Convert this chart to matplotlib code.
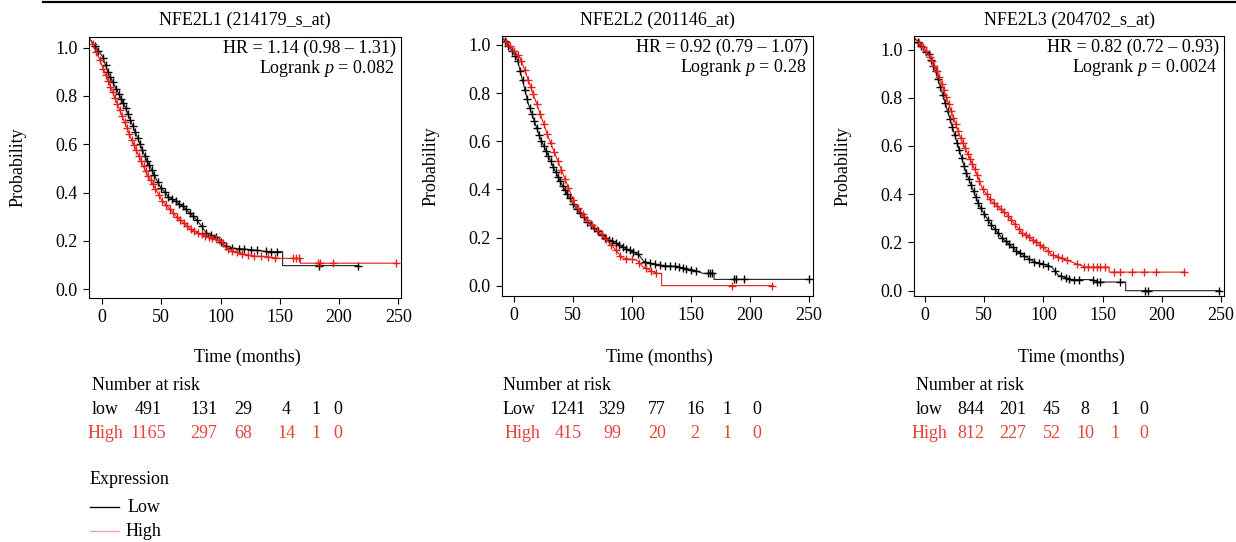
import numpy as np
import matplotlib
matplotlib.use("Agg")
import matplotlib.pyplot as plt
from matplotlib.lines import Line2D

plt.rcParams["font.family"] = ["Liberation Serif", "DejaVu Serif"]
plt.rcParams["mathtext.fontset"] = "custom"
plt.rcParams["mathtext.it"] = "Liberation Serif:italic"
plt.rcParams["mathtext.rm"] = "Liberation Serif"

W, H = 1236, 542
FS = 13
RED = "#e3201b"
RED_TXT = "#e8403a"

titles = ["NFE2L1 (214179_s_at)", "NFE2L2 (201146_at)", "NFE2L3 (204702_s_at)"]
hr_text = ["HR = 1.14 (0.98 – 1.31)", "HR = 0.92 (0.79 – 1.07)", "HR = 0.82 (0.72 – 0.93)"]
p_text = ["0.082", "0.28", "0.0024"]

# --- KM curves ---
p1_low_t = [-10, 0.5, 5.3, 12.4, 19.4, 25, 30.7, 36.3, 43.3, 49, 56, 68.6, 80, 88.3, 96, 102, 111, 128, 139, 152.4, 152.4, 216]
p1_low_s = [1.035, 0.963, 0.894, 0.825, 0.756, 0.687, 0.618, 0.549, 0.48, 0.425, 0.383, 0.342, 0.287, 0.232, 0.218, 0.183, 0.17, 0.163, 0.156, 0.156, 0.098, 0.098]
p1_high_t = [-10, -3, 2.5, 13.8, 25, 37.7, 50.3, 63, 75.7, 88.3, 100, 105, 116, 128, 139, 150, 167.5, 167.5, 248.6]
p1_high_s = [1.035, 0.963, 0.894, 0.756, 0.618, 0.48, 0.37, 0.30, 0.245, 0.218, 0.204, 0.17, 0.149, 0.138, 0.135, 0.128, 0.128, 0.108, 0.108]

p2_low_t = [-10, 2.3, 5.1, 12.2, 22, 34.8, 41.9, 50.4, 61.7, 77.2, 94.2, 105.5, 110, 121, 138, 152, 160, 169.5, 169.5, 251]
p2_low_s = [1.03, 0.945, 0.89, 0.751, 0.613, 0.475, 0.405, 0.336, 0.267, 0.198, 0.156, 0.129, 0.10, 0.086, 0.079, 0.065, 0.051, 0.051, 0.026, 0.026]
p2_high_t = [-9, 5.1, 9.3, 19.3, 29.2, 34.8, 40.5, 46.1, 51.8, 63, 77, 87.1, 91.4, 104, 109, 121, 125, 125, 219.7]
p2_high_s = [1.025, 0.945, 0.89, 0.751, 0.613, 0.544, 0.475, 0.405, 0.336, 0.267, 0.198, 0.143, 0.115, 0.106, 0.079, 0.051, 0.051, 0.0, 0.0]

p3_low_t = [-8.4, 3.4, 9, 17.5, 25.9, 34.4, 40, 45.6, 54, 65.3, 78, 92, 103, 107, 112.6, 124, 141, 146, 169.5, 169.5, 249]
p3_low_s = [1.045, 0.978, 0.909, 0.77, 0.632, 0.494, 0.424, 0.355, 0.286, 0.217, 0.162, 0.12, 0.106, 0.098, 0.064, 0.046, 0.046, 0.036, 0.036, 0.0, 0.0]
p3_high_t = [-7, 3, 10.4, 20.3, 30.1, 42.8, 48.4, 56.8, 69.6, 80.8, 97.7, 107.5, 112.6, 124, 135, 155.5, 155.5, 219.6]
p3_high_s = [1.04, 0.98, 0.909, 0.77, 0.632, 0.494, 0.424, 0.369, 0.314, 0.245, 0.189, 0.148, 0.14, 0.119, 0.098, 0.098, 0.077, 0.077]

# censor marks (times)
p1_low_cens = [-6, -3, 1, 3, 5, 7, 9, 12, 14, 16, 18, 20, 22, 24, 26, 28, 30, 32, 34, 36, 38, 40, 42, 44, 47, 50, 53, 56, 59, 62, 65, 68, 71, 74, 77, 80, 84, 88, 92, 96, 100, 105, 110, 116, 120, 126, 131, 138, 143, 148, 183, 216]
p1_high_cens = [-8, -5, -2, 1, 3, 5, 7, 9, 11, 13, 15, 17, 19, 21, 23, 25, 27, 29, 31, 33, 35, 37, 39, 41, 43, 45, 48, 51, 54, 57, 60, 63, 66, 69, 72, 75, 78, 81, 84, 87, 90, 93, 96, 99, 102, 106, 110, 114, 118, 123, 128, 134, 140, 146, 161, 164, 166, 182, 184, 195, 248]
p2_low_cens = [-8, -5, -2, 1, 3, 5, 7, 9, 11, 13, 15, 17, 19, 21, 23, 25, 27, 29, 31, 33, 35, 37, 39, 41, 43, 45, 47, 50, 53, 56, 59, 62, 65, 68, 71, 74, 77, 80, 83, 86, 89, 92, 95, 98, 101, 105, 111, 115, 119, 124, 128, 132, 136, 140, 143, 146, 150, 154, 164, 166, 168, 186, 188, 195, 250]
p2_high_cens = [-7, -4, 0, 3, 6, 9, 12, 14, 16, 19, 22, 25, 28, 31, 34, 37, 40, 43, 46, 50, 54, 58, 62, 66, 70, 74, 78, 82, 86, 90, 95, 100, 106, 112, 116, 120, 185, 219]
p3_low_cens = [-6, -3, 1, 3, 5, 7, 9, 11, 13, 15, 17, 19, 21, 23, 25, 27, 29, 31, 33, 35, 37, 39, 41, 43, 45, 47, 50, 53, 56, 59, 62, 65, 68, 71, 74, 77, 80, 84, 88, 92, 96, 100, 104, 110, 115, 119, 122, 126, 130, 142, 145, 148, 165, 186, 188, 248]
p3_high_cens = [-5, -2, 1, 4, 6, 8, 10, 12, 14, 16, 18, 20, 22, 24, 26, 28, 30, 32, 34, 36, 38, 40, 42, 44, 46, 49, 52, 55, 58, 61, 64, 67, 70, 73, 76, 79, 82, 85, 88, 91, 94, 97, 100, 104, 108, 112, 116, 120, 128, 134, 138, 142, 145, 148, 152, 160, 165, 175, 185, 195, 219]

# number at risk
risk_low = [[491, 131, 29, 4, 1, 0], [1241, 329, 77, 16, 1, 0], [844, 201, 45, 8, 1, 0]]
risk_high = [[1165, 297, 68, 14, 1, 0], [415, 99, 20, 2, 1, 0], [812, 227, 52, 10, 1, 0]]
risk_low_label = ["low", "Low", "low"]

curves = [
    (p1_low_t, p1_low_s, p1_low_cens, p1_high_t, p1_high_s, p1_high_cens),
    (p2_low_t, p2_low_s, p2_low_cens, p2_high_t, p2_high_s, p2_high_cens),
    (p3_low_t, p3_low_s, p3_low_cens, p3_high_t, p3_high_s, p3_high_cens),
]

# layout in pixels: left, right, top, bottom
boxes = [(89, 401, 37, 298), (502, 813, 36, 296), (914, 1224, 36, 296)]
xlims = [(-11.0, 252.3), (-10.4, 253.4), (-9.3, 252.5)]
ylims = [(-0.036, 1.044), (-0.043, 1.037), (-0.022, 1.056)]
risk_cols = [[148, 204, 243, 286, 316, 338], [568, 612, 657, 695, 727, 757], [971, 1013, 1052, 1085, 1115, 1144]]
risk_lab_x = [(92, 88), (503, 505), (916, 912)]

fig = plt.figure(figsize=(W / 100, H / 100), dpi=100)


def fx(x):
    return x / W


def fy(y):
    return 1 - y / H


fig.add_artist(Line2D([fx(43), 1], [fy(2), fy(2)], color="black", lw=1.6))

for i in range(3):
    l, r, t, b = boxes[i]
    ax = fig.add_axes([fx(l), fy(b), (r - l) / W, (b - t) / H])
    lt, ls, lc, ht, hs, hc = curves[i]
    ax.plot(lt, ls, color="#222222", lw=0.8)
    ax.plot(lc, np.interp(lc, lt, ls), ls="none", marker="+", ms=6, mew=1.0, color="black")
    ax.plot(ht, hs, color=RED, lw=0.8)
    ax.plot(hc, np.interp(hc, ht, hs), ls="none", marker="+", ms=6, mew=1.0, color=RED)
    ax.set_xlim(*xlims[i])
    ax.set_ylim(*ylims[i])
    ax.set_xticks([0, 50, 100, 150, 200, 250])
    ax.set_yticks([0.0, 0.2, 0.4, 0.6, 0.8, 1.0])
    ax.set_yticklabels(["0.0", "0.2", "0.4", "0.6", "0.8", "1.0"])
    ax.tick_params(direction="out", length=4, width=0.8, labelsize=FS, pad=4)
    for s in ax.spines.values():
        s.set_linewidth(0.8)
    ax.text(0.985, 0.99, hr_text[i], transform=ax.transAxes, ha="right", va="top", fontsize=FS)
    ax.text(0.978, 0.92, "Logrank $p$ = " + p_text[i], transform=ax.transAxes, ha="right", va="top", fontsize=FS)

    cx = (l + r) / 2
    fig.text(fx(cx), fy(20), titles[i], ha="center", va="center", fontsize=FS)
    fig.text(fx(l - 71), fy((t + b) / 2), "Probability", rotation=90, ha="center", va="center", fontsize=FS)
    fig.text(fx(cx + 2), fy(357), "Time (months)", ha="center", va="center", fontsize=FS)

    lx_low, lx_high = risk_lab_x[i]
    fig.text(fx(lx_low), fy(385), "Number at risk", ha="left", va="center", fontsize=FS)
    fig.text(fx(lx_low), fy(409), risk_low_label[i], ha="left", va="center", fontsize=FS)
    fig.text(fx(lx_high), fy(433), "High", ha="left", va="center", fontsize=FS, color=RED_TXT)
    for j in range(6):
        fig.text(fx(risk_cols[i][j]), fy(409), str(risk_low[i][j]), ha="center", va="center", fontsize=FS)
        fig.text(fx(risk_cols[i][j]), fy(433), str(risk_high[i][j]), ha="center", va="center", fontsize=FS, color=RED_TXT)

# legend
fig.text(fx(90), fy(480), "Expression", ha="left", va="center", fontsize=FS)
fig.add_artist(Line2D([fx(90), fx(119)], [fy(507), fy(507)], color="black", lw=1))
fig.text(fx(128), fy(507), "Low", ha="left", va="center", fontsize=FS)
fig.add_artist(Line2D([fx(90), fx(119)], [fy(531), fy(531)], color="#f4a3a3", lw=1))
fig.text(fx(126), fy(531), "High", ha="left", va="center", fontsize=FS)

fig.savefig("out.png", dpi=100)
